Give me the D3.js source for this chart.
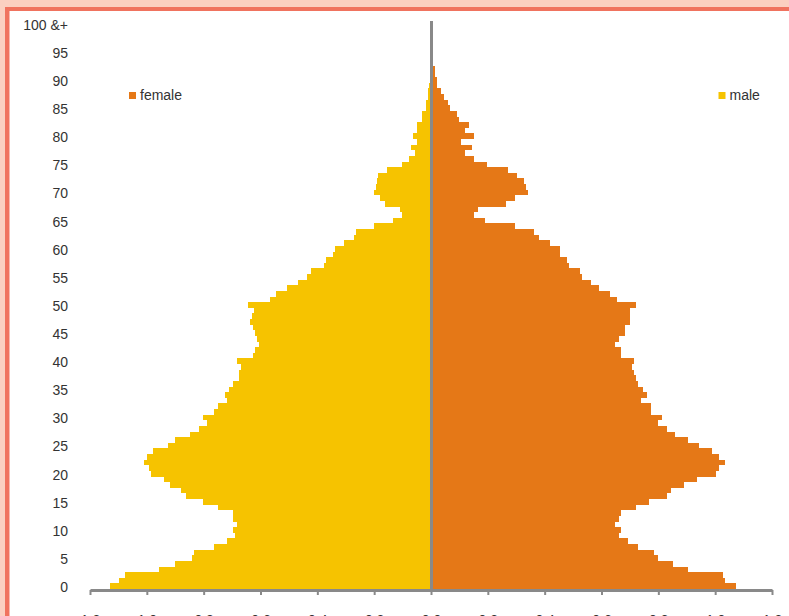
<!DOCTYPE html>
<html>
<head>
<meta charset="utf-8">
<script src="https://cdn.jsdelivr.net/npm/d3@7"></script>
<style>
  html, body { margin: 0; padding: 0; background: #fbd0c1; }
  svg { display: block; }
  text { font-family: "Liberation Sans", Arial, sans-serif; }
</style>
</head>
<body>
<svg id="chart" width="789" height="616"></svg>
<script>
// Ages 0..100 ("100 &+")
const ages = d3.range(0, 101);
const ageTickValues = d3.range(0, 101, 5);
const ageTickLabels = ageTickValues.map(a => a === 100 ? "100 &+" : String(a));

// Share of total population (%) by single year of age — left side (yellow bars)
const leftValues = [
  1.130, 1.099, 1.077, 0.958, 0.901, 0.842, 0.835, 0.764, 0.718, 0.690,
  0.697, 0.683, 0.697, 0.697, 0.750, 0.803, 0.863, 0.880, 0.919, 0.940,
  0.986, 0.993, 1.011, 1.000, 0.979, 0.926, 0.901, 0.849, 0.817, 0.789,
  0.803, 0.764, 0.750, 0.718, 0.725, 0.711, 0.697, 0.676, 0.676, 0.669,
  0.683, 0.627, 0.620, 0.606, 0.613, 0.620, 0.627, 0.637, 0.630, 0.623,
  0.644, 0.567, 0.546, 0.507, 0.468, 0.437, 0.423, 0.377, 0.370, 0.345,
  0.338, 0.306, 0.271, 0.264, 0.201, 0.134, 0.102, 0.109, 0.162, 0.180,
  0.201, 0.194, 0.190, 0.187, 0.155, 0.102, 0.077, 0.056, 0.070, 0.049,
  0.063, 0.049, 0.049, 0.032, 0.032, 0.018, 0.018, 0.011, 0.011, 0.007,
  0.005, 0.004, 0.003, 0.002, 0.002, 0.001, 0.001, 0.001, 0.0005, 0.0003,
  0.0003
];

// Right side (orange bars)
const rightValues = [
  1.074, 1.035, 1.028, 0.905, 0.852, 0.799, 0.785, 0.729, 0.694, 0.662,
  0.669, 0.648, 0.662, 0.669, 0.722, 0.768, 0.831, 0.845, 0.891, 0.937,
  1.004, 1.014, 1.035, 1.014, 0.989, 0.944, 0.905, 0.859, 0.831, 0.799,
  0.813, 0.775, 0.775, 0.739, 0.761, 0.746, 0.729, 0.722, 0.715, 0.708,
  0.715, 0.669, 0.669, 0.648, 0.662, 0.683, 0.683, 0.701, 0.701, 0.701,
  0.722, 0.655, 0.630, 0.592, 0.563, 0.532, 0.525, 0.486, 0.479, 0.454,
  0.454, 0.419, 0.380, 0.363, 0.296, 0.190, 0.151, 0.165, 0.264, 0.296,
  0.342, 0.335, 0.327, 0.303, 0.271, 0.197, 0.151, 0.120, 0.144, 0.106,
  0.151, 0.120, 0.134, 0.099, 0.092, 0.067, 0.060, 0.046, 0.035, 0.021,
  0.021, 0.014, 0.014, 0.005, 0.004, 0.002, 0.002, 0.001, 0.001, 0.001,
  0.001
];

const xTickValues = [-1.2, -1.0, -0.8, -0.6, -0.4, -0.2, 0, 0.2, 0.4, 0.6, 0.8, 1.0, 1.2];
const legendItems = [
  { label: "female", color: "#e57817", side: "left" },
  { label: "male", color: "#f6c300", side: "right" }
];
const leftColor = "#f6c300";
const rightColor = "#e57817";

const svg = d3.select("#chart");

// frame
svg.append("rect").attr("x", 5).attr("y", 7).attr("width", 800).attr("height", 700).attr("fill", "#f0735f");
svg.append("rect").attr("x", 9.5).attr("y", 11).attr("width", 800).attr("height", 700).attr("fill", "#ffffff");

const plotTop = 21, plotBottom = 589, plotLeft = 90, plotRight = 772;

const x = d3.scaleLinear().domain([-1.2, 1.2]).range([plotLeft, plotRight]);
const y = d3.scaleBand().domain(ages).range([plotBottom, plotTop]).padding(0);

// bars
svg.append("g").selectAll("rect").data(ages).join("rect")
  .attr("x", d => x(-leftValues[d]))
  .attr("y", d => y(d))
  .attr("width", d => x(0) - x(-leftValues[d]))
  .attr("height", y.bandwidth())
  .attr("fill", leftColor)
  .attr("shape-rendering", "crispEdges");

svg.append("g").selectAll("rect").data(ages).join("rect")
  .attr("x", x(0))
  .attr("y", d => y(d))
  .attr("width", d => x(rightValues[d]) - x(0))
  .attr("height", y.bandwidth())
  .attr("fill", rightColor)
  .attr("shape-rendering", "crispEdges");

// centre line
svg.append("line")
  .attr("x1", x(0) + 0.5).attr("x2", x(0) + 0.5)
  .attr("y1", plotTop).attr("y2", plotBottom)
  .attr("stroke", "#898989").attr("stroke-width", 3);

// y axis (age labels)
const yAxis = d3.axisLeft(y)
  .tickValues(ageTickValues)
  .tickFormat((d, i) => ageTickLabels[i])
  .tickSize(0).tickPadding(0);
const gy = svg.append("g").attr("transform", "translate(68,0)").call(yAxis);
gy.select(".domain").remove();
gy.selectAll("text").attr("font-size", 14).attr("dy", "0.42em").attr("fill", "#333").attr("font-family", "Liberation Sans, Arial, sans-serif");

// x axis
const xAxis = d3.axisBottom(x)
  .tickValues(xTickValues)
  .tickFormat(d => Math.abs(d).toFixed(1))
  .tickSize(5).tickSizeOuter(0).tickPadding(20);
const gx = svg.append("g").attr("transform", `translate(0,${plotBottom + 1})`).call(xAxis);
gx.select(".domain").attr("stroke", "#898989").attr("stroke-width", 3);
gx.selectAll(".tick line").attr("stroke", "#898989").attr("stroke-width", 2);
gx.selectAll("text").attr("font-size", 14).attr("fill", "#333").attr("font-family", "Liberation Sans, Arial, sans-serif");

// legend
const legendPos = { left: { x: 129, y: 92 }, right: { x: 718.5, y: 92 } };
legendItems.forEach(item => {
  const p = legendPos[item.side];
  svg.append("rect").attr("x", p.x).attr("y", p.y).attr("width", 7).attr("height", 7).attr("fill", item.color);
  svg.append("text").attr("x", p.x + 11).attr("y", p.y + 7.5)
    .attr("font-size", 14).attr("fill", "#333").text(item.label);
});
</script>
</body>
</html>
